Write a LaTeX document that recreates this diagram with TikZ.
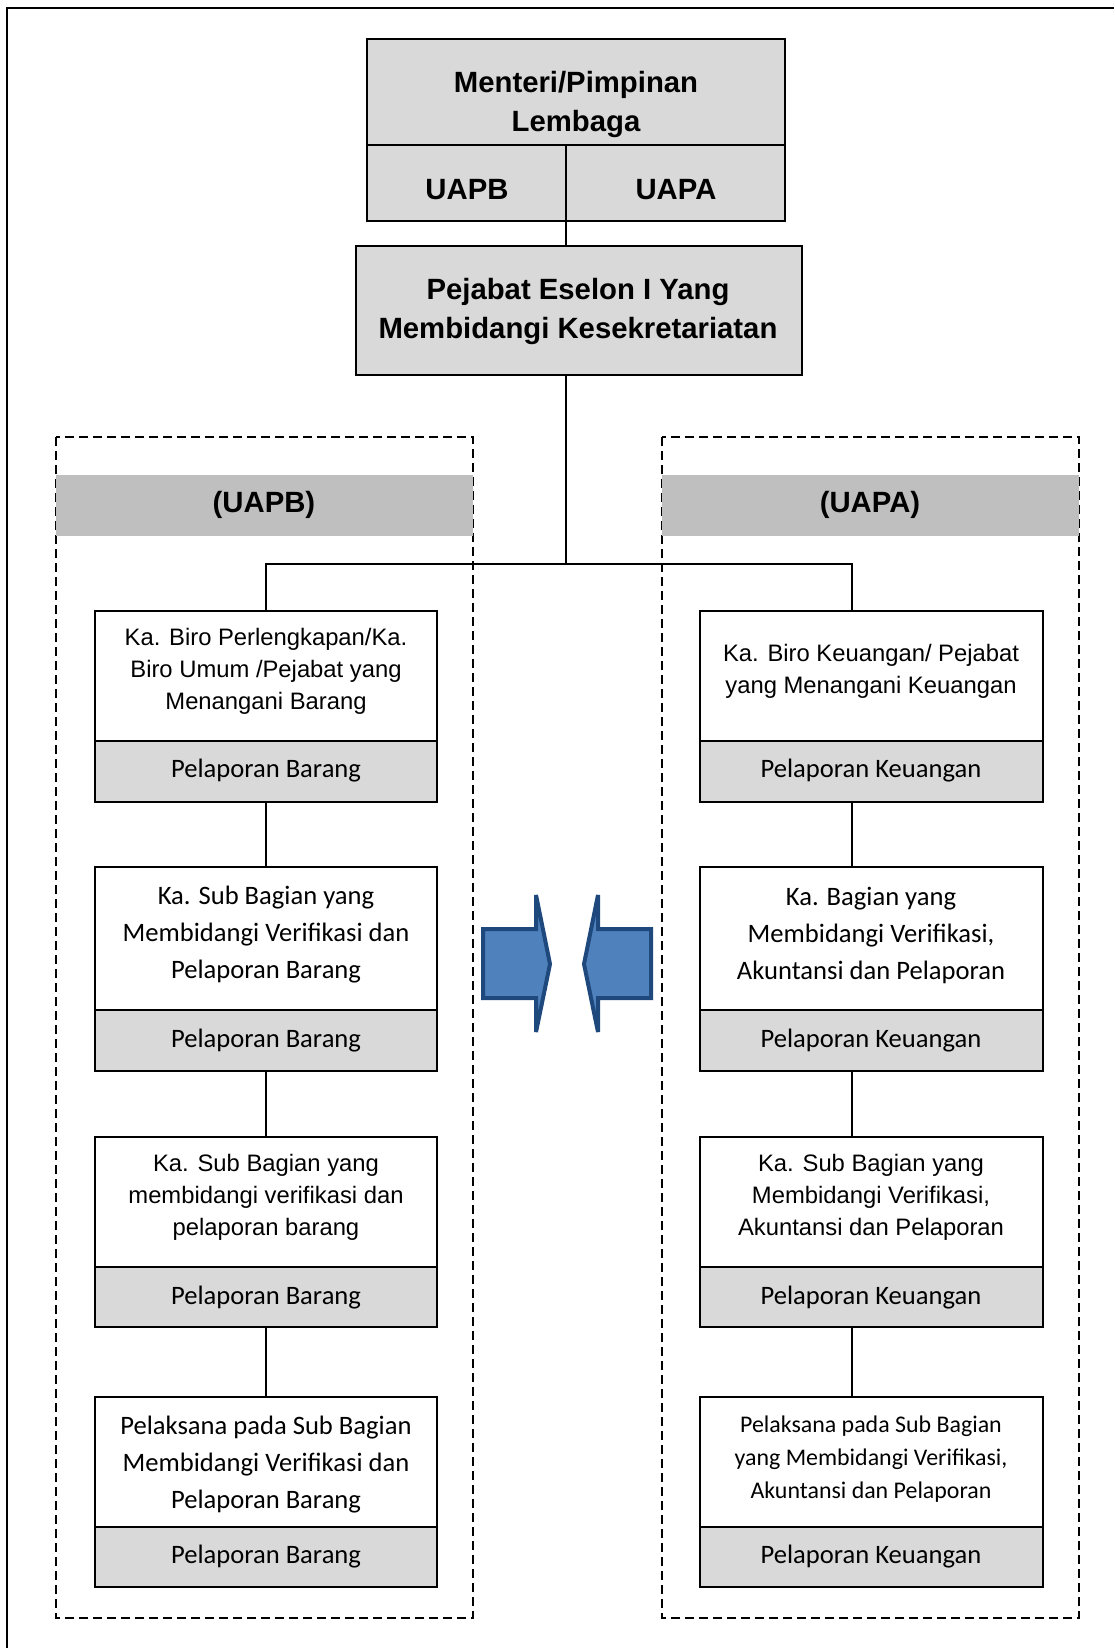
\documentclass[tikz,border=0pt]{standalone}
\usepackage{fontspec}
\setmainfont{Liberation Sans}
\newfontfamily\carl{Carlito}
\definecolor{boxgray}{HTML}{D9D9D9}
\definecolor{bandgray}{HTML}{BFBFBF}
\definecolor{arrfill}{HTML}{4F81BD}
\definecolor{arrline}{HTML}{1F497D}
\begin{document}
\begin{tikzpicture}[x=1pt,y=-1pt,
  conn/.style={line width=1.5pt},
  shp/.style={draw, line width=2pt, inner sep=0pt, outer sep=0pt},
  wbox/.style={shp, fill=white, minimum width=#1},
  gbox/.style={shp, fill=boxgray, minimum width=#1},
  topbox/.style={shp, fill=boxgray},
  band/.style={fill=bandgray, inner sep=0pt, outer sep=0pt, minimum width=417pt, minimum height=61pt},
  dashbox/.style={line width=1.8pt, dash pattern=on 9pt off 5pt},
  bigb/.style={font=\bfseries\fontsize{29.3}{39}\selectfont, align=center, inner sep=0pt},
  ar/.style={font=\fontsize{23.8}{32}\selectfont, align=center, inner sep=0pt},
  cb/.style={font=\carl\fontsize{26.6}{37}\selectfont, align=center, inner sep=0pt},
  cs/.style={font=\carl\fontsize{23.9}{33}\selectfont, align=center, inner sep=0pt},
  arrow shape/.style={fill=arrfill, draw=arrline, line width=4pt, line join=miter, miter limit=6}
]
\useasboundingbox (0,0) rectangle (1114,1648);
% outer frame (partially visible)
\draw[line width=2pt] (7,1648) -- (7,8) -- (1114,8);

% dashed group boxes
\draw[dashbox] (56,437) rectangle (473,1618);
\draw[dashbox] (662,437) rectangle (1079,1618);
\node[band] (bandL) at (264.5,505.5) {};
\node[band] (bandR) at (870.5,505.5) {};
\node[bigb] (tUAPBh) at (264,505) {(UAPB)};
\node[bigb] (tUAPAh) at (870,505) {(UAPA)};

% top box
\node[topbox, minimum width=418pt, minimum height=106pt] (mtop) at (576,92) {};
\node[topbox, minimum width=199pt, minimum height=76pt, line width=1.5pt] (uapb) at (466.5,183) {};
\node[topbox, minimum width=219pt, minimum height=76pt, line width=1.5pt] (uapa) at (675.5,183) {};
\draw[line width=2.5pt] (mtop.north west) rectangle (uapa.south east);
\node[bigb] (tmtop) at (576,104.5) {Menteri/Pimpinan\\Lembaga};
\node[bigb] (tuapb) at (467,190) {UAPB};
\node[bigb] (tuapa) at (676,190) {UAPA};

% second box
\node[topbox, minimum width=446pt, minimum height=129pt] (pej) at (579,310.5) {};
\node[bigb] (tpej) at (578,311.5) {Pejabat Eselon I Yang\\Membidangi Kesekretariatan};

% coordinates for connectors
\coordinate (bus) at (566,564);
\coordinate (rcx) at (852,564);

% left column
\node[wbox=342pt, minimum height=130pt] (lb1) at (266,676) {};
\node[gbox=342pt, minimum height=61pt] (lg1) at (266,771.5) {};
\node[wbox=342pt, minimum height=143pt] (lb2) at (266,938.5) {};
\node[gbox=342pt, minimum height=61pt] (lg2) at (266,1040.5) {};
\node[wbox=342pt, minimum height=130pt] (lb3) at (266,1202) {};
\node[gbox=342pt, minimum height=60pt] (lg3) at (266,1297) {};
\node[wbox=342pt, minimum height=130pt] (lb4) at (266,1462) {};
\node[gbox=342pt, minimum height=60pt] (lg4) at (266,1557) {};

% right column
\node[wbox=343pt, minimum height=130pt] (rb1) at (871.5,676) {};
\node[gbox=343pt, minimum height=61pt] (rg1) at (871.5,771.5) {};
\node[wbox=343pt, minimum height=143pt] (rb2) at (871.5,938.5) {};
\node[gbox=343pt, minimum height=61pt] (rg2) at (871.5,1040.5) {};
\node[wbox=343pt, minimum height=130pt] (rb3) at (871.5,1202) {};
\node[gbox=343pt, minimum height=60pt] (rg3) at (871.5,1297) {};
\node[wbox=343pt, minimum height=130pt] (rb4) at (871.5,1462) {};
\node[gbox=343pt, minimum height=60pt] (rg4) at (871.5,1557) {};

% connectors
\draw[conn] (uapb.south east) -- (uapb.south east |- pej.north);
\draw[conn] (pej.south -| bus) -- (bus);
\draw[conn] (lb1.north) |- (bus) -| (rcx) -- (rcx |- rb1.north);
\draw[conn] (lg1.south) -- (lb2.north);
\draw[conn] (lg2.south) -- (lb3.north);
\draw[conn] (lg3.south) -- (lb4.north);
\draw[conn] (rcx |- rg1.south) -- (rcx |- rb2.north);
\draw[conn] (rcx |- rg2.south) -- (rcx |- rb3.north);
\draw[conn] (rcx |- rg3.south) -- (rcx |- rb4.north);

% texts left
\node[ar] (tl1) at (266,671) {Ka. Biro Perlengkapan/Ka.\\Biro Umum /Pejabat yang\\Menangani Barang};
\node[cb] (tl2) at (266,935) {Ka. Sub Bagian yang\\Membidangi Verifikasi dan\\Pelaporan Barang};
\node[ar] (tl3) at (266,1197) {Ka. Sub Bagian yang\\membidangi verifikasi dan\\pelaporan barang};
\node[cb] (tl4) at (266,1465) {Pelaksana pada Sub Bagian\\Membidangi Verifikasi dan\\Pelaporan Barang};
\node[cb] (gl1) at (266,771) {Pelaporan Barang};
\node[cb] (gl2) at (266,1041) {Pelaporan Barang};
\node[cb] (gl3) at (266,1298) {Pelaporan Barang};
\node[cb] (gl4) at (266,1557) {Pelaporan Barang};

% texts right
\node[ar] (tr1) at (871,671) {Ka. Biro Keuangan/ Pejabat\\yang Menangani Keuangan};
\node[cb] (tr2) at (871,935) {Ka. Bagian yang\\Membidangi Verifikasi,\\Akuntansi dan Pelaporan};
\node[ar] (tr3) at (871,1197) {Ka. Sub Bagian yang\\Membidangi Verifikasi,\\Akuntansi dan Pelaporan};
\node[cs] (tr4) at (871,1459) {Pelaksana pada Sub Bagian\\yang Membidangi Verifikasi,\\Akuntansi dan Pelaporan};
\node[cb] (gr1) at (871,771) {Pelaporan Keuangan};
\node[cb] (gr2) at (871,1041) {Pelaporan Keuangan};
\node[cb] (gr3) at (871,1298) {Pelaporan Keuangan};
\node[cb] (gr4) at (871,1557) {Pelaporan Keuangan};

% block arrows
\draw[arrow shape] (483,929) -- (536,929) -- (536,895) -- (550,964) -- (536,1032) -- (536,998) -- (483,998) -- cycle;
\draw[arrow shape] (651,929) -- (598,929) -- (598,895) -- (584,964) -- (598,1032) -- (598,998) -- (651,998) -- cycle;
\end{tikzpicture}
\end{document}
